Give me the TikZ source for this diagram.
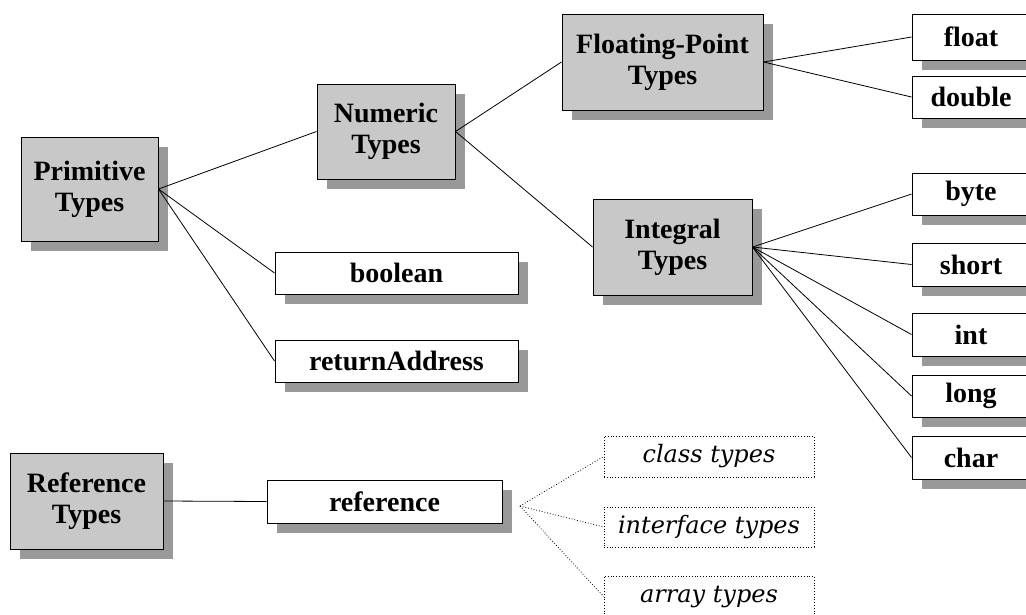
\documentclass[tikz,border=0pt]{standalone}
\usepackage{fontspec}
\setmainfont{Liberation Serif}
\newfontfamily\leaffont{DejaVu Serif}
\usetikzlibrary{shadows}
\definecolor{boxgray}{RGB}{200,200,200}
\definecolor{shadowgray}{RGB}{153,153,153}
\begin{document}
\begin{tikzpicture}[x=1pt,y=-1pt,
  base/.style={draw=black, line width=1pt, inner sep=0pt, align=center,
    font=\bfseries\fontsize{28}{31}\selectfont,
    drop shadow={shadow xshift=10pt, shadow yshift=-10pt, fill=shadowgray, opacity=1}},
  bigbox/.style={base, fill=boxgray},
  smallbox/.style={base, fill=white},
  leafbox/.style={draw=black, dotted, line width=0.8pt, inner sep=0pt,
    font=\leaffont\itshape\fontsize{24}{28}\selectfont},
  link/.style={draw=black, line width=0.8pt},
  dlink/.style={draw=black, dotted, line width=0.8pt}]
\useasboundingbox (0,0) rectangle (1026,614);
\clip (0,0) rectangle (1026,614);
% big grey boxes
\node[bigbox, minimum width=137pt, minimum height=104pt] (prim) at (89.5,189) {Primitive\\Types};
\node[bigbox, minimum width=138pt, minimum height=95pt] (num) at (386,131.5) {Numeric\\Types};
\node[bigbox, minimum width=201pt, minimum height=96pt] (flt) at (662.5,62) {Floating-Point\\Types};
\node[bigbox, minimum width=159pt, minimum height=96pt] (intg) at (672.5,247) {Integral\\Types};
\node[bigbox, minimum width=153pt, minimum height=96pt] (reft) at (86.5,501) {Reference\\Types};
% white boxes
\node[smallbox, minimum width=243pt, minimum height=42pt] (bool) at (396.5,273) {boolean};
\node[smallbox, minimum width=243pt, minimum height=42pt] (ret) at (396.5,361) {returnAddress};
\node[smallbox, minimum width=235pt, minimum height=43pt] (refn) at (384.5,501.5) {reference};
\node[smallbox, minimum width=118pt, minimum height=46pt] (float) at (971,37) {float};
\node[smallbox, minimum width=118pt, minimum height=42pt] (double) at (971,97) {double};
\node[smallbox, minimum width=118pt, minimum height=42pt] (byte) at (971,194) {byte};
\node[smallbox, minimum width=118pt, minimum height=43pt] (short) at (971,264.5) {short};
\node[smallbox, minimum width=118pt, minimum height=43pt] (int) at (971,334.5) {int};
\node[smallbox, minimum width=118pt, minimum height=42pt] (long) at (971,396) {long};
\node[smallbox, minimum width=118pt, minimum height=43pt] (char) at (971,457.5) {char};
% dotted boxes
\node[leafbox, minimum width=210pt, minimum height=41pt] (cls) at (709,456.5) {class types};
\node[leafbox, minimum width=210pt, minimum height=40pt] (ifc) at (709,527) {interface types};
\node[leafbox, minimum width=210pt, minimum height=41pt] (arr) at (709,596.5) {array types};
\coordinate (refj) at (520,506);
% connectors
\draw[link] (prim.east) -- (num.west);
\draw[link] (prim.east) -- (bool.west);
\draw[link] (prim.east) -- (ret.west);
\draw[link] (num.east) -- (flt.west);
\draw[link] (num.east) -- (intg.west);
\draw[link] (flt.east) -- (float.west);
\draw[link] (flt.east) -- (double.west);
\draw[link] (intg.east) -- (byte.west);
\draw[link] (intg.east) -- (short.west);
\draw[link] (intg.east) -- (int.west);
\draw[link] (intg.east) -- (long.west);
\draw[link] (intg.east) -- (char.west);
\draw[link] (reft.east) -- (refn.west);
\draw[dlink] (refj) -- (cls.west);
\draw[dlink] (refj) -- (ifc.west);
\draw[dlink] (refj) -- (arr.west);
\end{tikzpicture}
\end{document}
